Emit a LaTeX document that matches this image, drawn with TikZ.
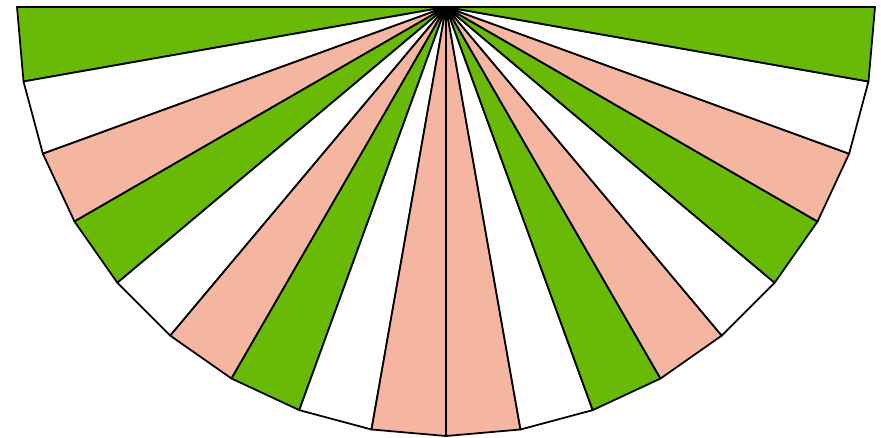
\documentclass[tikz,border=0pt]{standalone}
\usepackage{tikz}
\definecolor{fangreen}{RGB}{104,186,6}
\definecolor{fanpink}{RGB}{244,182,160}
\tikzset{
	wedge/.style={draw=black, line width=1pt, line join=round},
}
\begin{document}
\begin{tikzpicture}[x=0.2mm, y=-0.2mm]
	\useasboundingbox (0,0) rectangle (881,438);
	
	%% -- hub of the fan
	\coordinate (hub) at (446,7);
	
	%% -- 18 wedges of 10 degrees, colours mirrored about the middle
	\foreach \i in {0,...,17}{
		\pgfmathtruncatemacro{\k}{\i<9 ? mod(\i,3) : mod(17-\i,3)}
		\pgfmathsetmacro{\a}{180-10*\i}
		\pgfmathsetmacro{\b}{170-10*\i}
		\ifcase\k \def\col{fangreen}\or \def\col{white}\or \def\col{fanpink}\fi
		\filldraw[wedge, fill=\col]
		(hub) -- +(\a:429) -- +(\b:429) -- cycle;
	}
	
\end{tikzpicture}
\end{document}
